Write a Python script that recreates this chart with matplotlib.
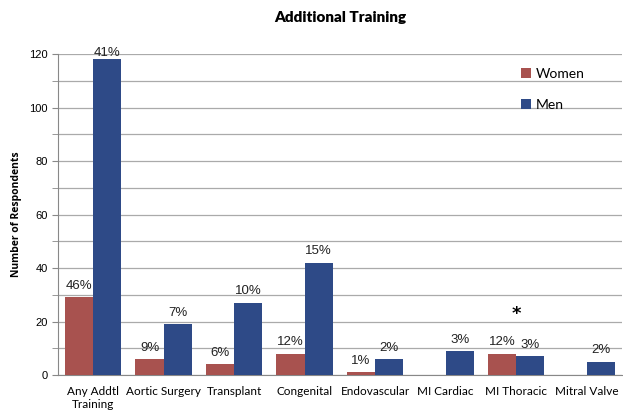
import matplotlib
matplotlib.use("Agg")
import matplotlib.pyplot as plt
import numpy as np

categories = ["Any Addtl\nTraining", "Aortic Surgery", "Transplant", "Congenital",
              "Endovascular", "MI Cardiac", "MI Thoracic", "Mitral Valve"]
women = [29, 6, 4, 8, 1, 0, 8, 0]
men = [118, 19, 27, 42, 6, 9, 7, 5]
women_pct = ["46%", "9%", "6%", "12%", "1%", "", "12%", ""]
men_pct = ["41%", "7%", "10%", "15%", "2%", "3%", "3%", "2%"]
yticks = [0, 20, 40, 60, 80, 100, 120]

c_w = "#A8524F"
c_m = "#2E4A87"

fig = plt.figure(figsize=(6.23, 4.13), dpi=100)
ax = fig.add_axes([0.093, 0.092, 0.905, 0.777])

x = np.arange(len(categories))
w = 0.4
ax.bar(x - w/2, women, w, color=c_w, label="Women", zorder=3)
ax.bar(x + w/2, men, w, color=c_m, label="Men", zorder=3)

for xi, v, t in zip(x, women, women_pct):
    if t:
        ax.text(xi - w/2, v + 2, t, ha="center", va="bottom", fontsize=9.5,
                family="Liberation Sans", color="#222222")
for xi, v, t in zip(x, men, men_pct):
    if t:
        ax.text(xi + w/2, v + 0.3 if v > 100 else v + 2, t, ha="center", va="bottom", fontsize=9.5,
                family="Liberation Sans", color="#222222")

ax.text(x[6], 19.5, "*", ha="center", va="bottom", fontsize=13, fontweight="bold")

ax.set_xlim(-0.5, len(categories) - 0.5)
ax.set_ylim(0, 120)
ax.set_yticks(yticks)
ax.set_yticks(np.arange(0, 121, 10), minor=True)
ax.tick_params(axis="y", which="both", length=4, labelsize=8, color="#888888")
ax.tick_params(axis="x", length=0, labelsize=8.5, pad=8)
for lab in ax.get_yticklabels():
    lab.set_family("Liberation Sans")
ax.set_xticks(x)
ax.set_xticklabels(categories, family="Lato")
ax.grid(axis="y", which="both", color="#AAAAAA", linewidth=0.9, zorder=0)
for s in ["top", "right"]:
    ax.spines[s].set_visible(False)
ax.spines["left"].set_color("#888888")
ax.spines["bottom"].set_color("#888888")

ax.set_ylabel("Number of Respondents", fontsize=7.5, fontweight="bold", family="Open Sans", labelpad=5)
fig.text(0.546, 0.957, "Additional Training", ha="center", va="center", fontsize=11,
         fontweight="heavy", family="Lato")

ax.legend(loc="upper left", bbox_to_anchor=(0.80, 0.995), frameon=False,
          handlelength=0.7, handleheight=0.7, labelspacing=1.35, handletextpad=0.3,
          prop={"family": "Lato", "size": 10})

fig.savefig("out.png", dpi=100)
